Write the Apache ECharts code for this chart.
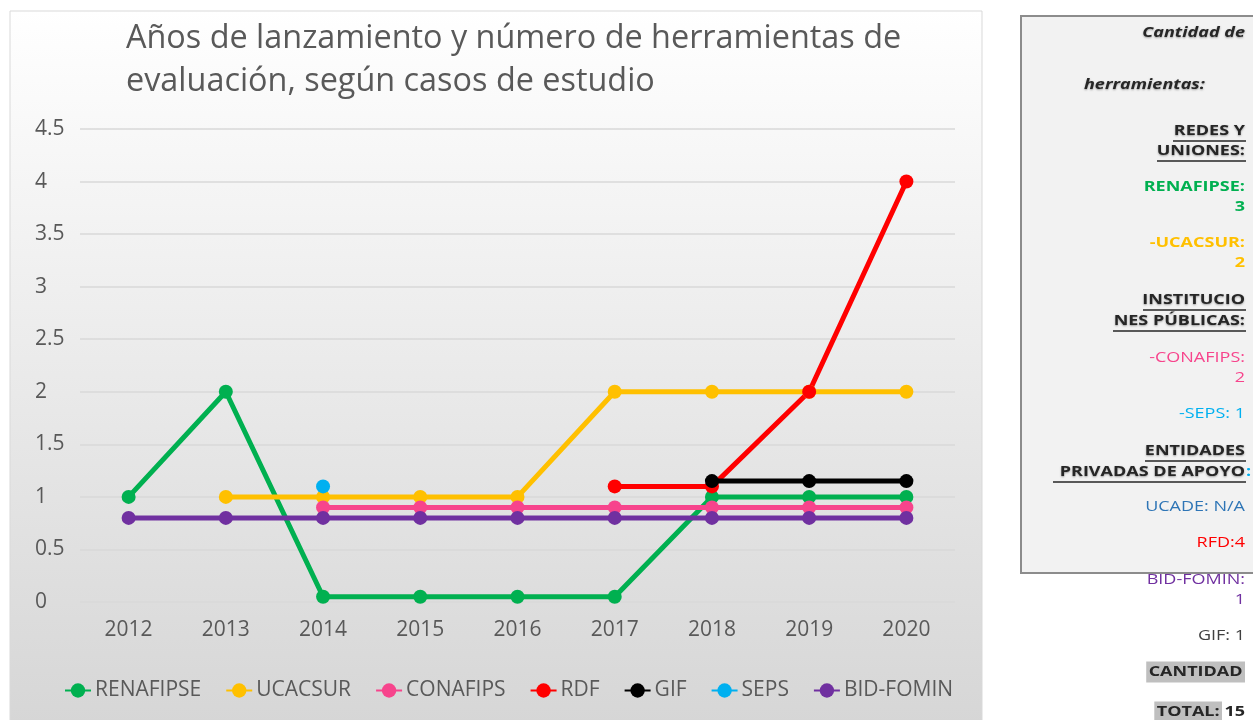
<!DOCTYPE html>
<html>
<head>
<meta charset="utf-8">
<script src="https://cdn.jsdelivr.net/npm/echarts@6/dist/echarts.min.js"></script>
<style>
  html, body { margin: 0; padding: 0; background: #fff; }
  #main { width: 1253px; height: 720px; }
</style>
</head>
<body>
<div id="main"></div>
<script>
var years = ['2012', '2013', '2014', '2015', '2016', '2017', '2018', '2019', '2020'];

var renafipse = [1, 2, 0.05, 0.05, 0.05, 0.05, 1, 1, 1];
var ucacsur   = [null, 1, 1, 1, 1, 2, 2, 2, 2];
var conafips  = [null, null, 0.9, 0.9, 0.9, 0.9, 0.9, 0.9, 0.9];
var rdf       = [null, null, null, null, null, 1.1, 1.1, 2, 4];
var gif       = [null, null, null, null, null, null, 1.15, 1.15, 1.15];
var seps      = [null, null, 1.1, null, null, null, null, null, null];
var bidFomin  = [0.8, 0.8, 0.8, 0.8, 0.8, 0.8, 0.8, 0.8, 0.8];

var seriesNames  = ['RENAFIPSE', 'UCACSUR', 'CONAFIPS', 'RDF', 'GIF', 'SEPS', 'BID-FOMIN'];
var seriesColors = ['#00b050', '#ffc000', '#f7448c', '#ff0000', '#000000', '#00b0f0', '#7030a0'];
var seriesData   = [renafipse, ucacsur, conafips, rdf, gif, seps, bidFomin];

// panel on the right: [text, y, color, bold, italic, underline-from-x]
var notes = [
    ['Cantidad de', 33, '#262626', true, true, null],
    ['herramientas:', 85, '#262626', true, true, null],
    ['REDES Y', 131, '#262626', true, false, 1173],
    ['UNIONES:', 151, '#262626', true, false, 1157],
    ['RENAFIPSE:', 187, '#00b050', true, false, null],
    ['3', 207, '#00b050', true, false, null],
    ['-UCACSUR:', 243, '#ffc000', true, false, null],
    ['2', 263, '#ffc000', true, false, null],
    ['INSTITUCIO', 300, '#262626', true, false, 1143],
    ['NES PÚBLICAS:', 321, '#262626', true, false, 1113],
    ['-CONAFIPS:', 358, '#f7448c', false, false, null],
    ['2', 378, '#f7448c', false, false, null],
    ['-SEPS: 1', 414, '#00b0f0', false, false, null],
    ['ENTIDADES', 451, '#262626', true, false, 1145],
    ['PRIVADAS DE APOYO', 472, '#262626', true, false, 1053],
    ['UCADE: N/A', 507, '#2e75b6', false, false, null],
    ['RFD:4', 543, '#ff0000', false, false, null],
    ['BID-FOMIN:', 580, '#7030a0', false, false, null],
    ['1', 600, '#7030a0', false, false, null],
    ['GIF: 1', 636, '#404040', false, false, null]
];

var chart = echarts.init(document.getElementById('main'));

var graphics = [{
    type: 'rect',
    z: -100,
    shape: { x: 10, y: 11, width: 972, height: 712 },
    style: {
        fill: new echarts.graphic.LinearGradient(0, 0, 0, 1, [
            { offset: 0, color: '#ffffff' },
            { offset: 1, color: '#d6d6d6' }
        ]),
        stroke: '#d9d9d9',
        lineWidth: 1
    }
}, {
    type: 'rect',
    z: -100,
    shape: { x: 1021, y: 16, width: 240, height: 557 },
    style: { fill: '#f2f2f2', stroke: '#8c8c8c', lineWidth: 2 }
}];

function noteText(txt, x, y, color, bold, italic, extra) {
    var st = {
        text: txt,
        x: 0,
        y: 0,
        align: 'right',
        verticalAlign: 'middle',
        fill: color,
        fontFamily: 'Open Sans',
        fontSize: 15,
        fontWeight: bold ? 'bold' : 'normal',
        fontStyle: italic ? 'italic' : 'normal'
    };
    if (extra) {
        for (var k in extra) st[k] = extra[k];
    }
    return { type: 'text', z: 10, x: x, y: y, scaleX: 1.2, style: st };
}

notes.forEach(function (n) {
    var right = n[0] === 'herramientas:' ? 1205 : 1245;
    var shadow = n[2] === '#262626'
        ? { textShadowColor: 'rgba(0,0,0,0.35)', textShadowBlur: 2, textShadowOffsetY: 1 }
        : null;
    graphics.push(noteText(n[0], right, n[1], n[2], n[3], n[4], shadow));
    if (n[5] !== null) {
        graphics.push({
            type: 'line',
            z: 10,
            shape: { x1: n[5], y1: n[1] + 10, x2: right + 1, y2: n[1] + 10 },
            style: { stroke: '#262626', lineWidth: 1.3 }
        });
    }
});

graphics.push(
    noteText(':', 1246, 472, '#00b0f0', true, false, { align: 'left' }),
    noteText('CANTIDAD', 1245, 672, '#262626', true, false, { backgroundColor: '#bfbfbf', padding: [3, 2] }),
    noteText('TOTAL:', 1222, 712, '#262626', true, false, { backgroundColor: '#bfbfbf', padding: [3, 2] }),
    noteText('15', 1245, 712, '#262626', true, false)
);

var series = [];
for (var i = 0; i < seriesNames.length; i++) {
    series.push({
        name: seriesNames[i],
        type: 'line',
        data: seriesData[i],
        symbol: 'circle',
        symbolSize: 14,
        showAllSymbol: true,
        connectNulls: false,
        color: seriesColors[i],
        lineStyle: { width: 5, color: seriesColors[i] },
        itemStyle: { color: seriesColors[i] },
        emphasis: { disabled: true }
    });
}

var option = {
    animation: false,
    title: {
        text: 'Años de lanzamiento y número de herramientas de\nevaluación, según casos de estudio',
        left: 121,
        top: 12,
        textStyle: {
            fontFamily: 'Open Sans',
            fontSize: 32.4,
            fontWeight: 'normal',
            color: '#595959',
            lineHeight: 43
        }
    },
    legend: {
        left: 59,
        top: 675,
        itemWidth: 26,
        itemHeight: 18,
        itemGap: 24,
        textStyle: { fontFamily: 'Open Sans', fontSize: 21, color: '#595959', padding: [0, 0, 0, -1] },
        data: seriesNames
    },
    grid: {
        left: 80,
        right: 1253 - 955,
        top: 129,
        bottom: 720 - 602
    },
    xAxis: {
        type: 'category',
        data: years,
        boundaryGap: true,
        axisLine: { show: false },
        axisTick: { show: false },
        axisLabel: { fontFamily: 'Open Sans', fontSize: 21, color: '#595959', margin: 18 }
    },
    yAxis: {
        type: 'value',
        min: 0,
        max: 4.5,
        interval: 0.5,
        axisLine: { show: false },
        axisTick: { show: false },
        splitLine: { lineStyle: { color: '#d9d9d9', width: 1.5 } },
        axisLabel: { fontFamily: 'Open Sans', fontSize: 21, color: '#595959', align: 'left', margin: 45 }
    },
    graphic: graphics,
    series: series
};

chart.setOption(option);
</script>
</body>
</html>
